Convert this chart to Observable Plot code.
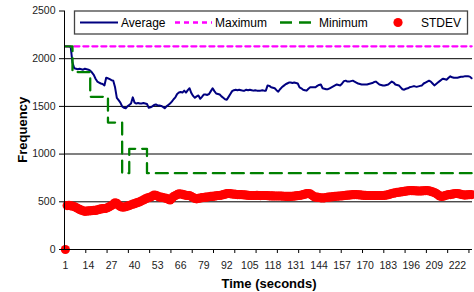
<!DOCTYPE html>
<html><head><meta charset="utf-8">
<script src="https://cdn.jsdelivr.net/npm/d3@7"></script>
<script src="https://cdn.jsdelivr.net/npm/@observablehq/plot@0.6"></script>
<style>
body{margin:0;background:#fff;}
svg{font-family:"Liberation Sans",Arial,sans-serif;}
</style>
</head><body><div id="chart"></div>
<script>
const seriesNames = ["Average", "Maximum", "Minimum", "STDEV"];
const seriesColors = ["#000080", "#FF00FF", "#008000", "#FF0000"];

const average = [
2130,2130,2130,2120,1960,1900,1895,1890,1895,1890,
1885,1895,1890,1885,1875,1855,1830,1790,1760,1750,
1740,1735,1720,1800,1795,1785,1775,1770,1700,1590,
1565,1540,1500,1485,1480,1500,1515,1530,1595,1540,
1530,1535,1530,1530,1535,1530,1525,1485,1490,1500,
1515,1520,1510,1510,1505,1495,1480,1500,1515,1530,
1550,1575,1595,1630,1645,1650,1645,1665,1645,1670,
1690,1640,1610,1590,1605,1615,1580,1600,1625,1625,
1620,1630,1660,1690,1660,1635,1630,1625,1605,1590,
1575,1570,1600,1630,1660,1670,1675,1670,1675,1670,
1665,1665,1675,1670,1675,1670,1665,1670,1665,1665,
1665,1670,1665,1665,1720,1715,1700,1695,1690,1670,
1655,1680,1700,1715,1730,1740,1750,1750,1745,1750,
1745,1740,1700,1690,1675,1670,1665,1685,1700,1700,
1700,1700,1715,1725,1730,1690,1685,1680,1680,1690,
1700,1710,1720,1730,1725,1720,1740,1765,1770,1760,
1760,1765,1770,1760,1750,1740,1735,1730,1730,1730,
1730,1735,1740,1745,1755,1760,1745,1730,1725,1720,
1720,1725,1730,1745,1760,1750,1730,1725,1720,1700,
1680,1675,1685,1690,1700,1705,1710,1710,1705,1710,
1715,1720,1740,1750,1760,1770,1760,1740,1720,1735,
1750,1765,1780,1790,1785,1780,1800,1815,1805,1800,
1800,1800,1805,1810,1810,1815,1815,1815,1812,1795
];

const stdev = [
0,460,462,458,455,450,440,
430,420,412,405,400,
402,405,405,408,410,
410,415,420,425,428,
430,432,440,450,460,
475,490,485,465,450,
445,445,448,455,460,
468,475,480,488,495,
500,510,520,530,538,
545,550,560,570,568,
560,550,548,545,540,
535,528,520,535,555,
566,575,584,582,578,
572,568,566,565,555,
545,535,531,535,540,
543,545,548,550,553,
556,556,560,563,566,
566,570,575,580,585,
587,585,582,580,578,
576,576,576,574,572,
570,568,566,566,566,
566,568,566,565,566,
566,566,564,563,562,
562,561,561,561,561,
560,558,557,556,556,
556,558,560,563,565,
566,570,575,580,585,
587,583,570,555,548,
548,545,542,540,542,
545,548,550,552,554,
556,558,560,561,563,
565,567,569,571,573,
575,576,576,574,572,
570,568,567,566,566,
566,566,566,566,566,
566,566,566,568,570,
575,580,587,590,594,
598,600,603,606,609,
612,615,618,618,617,
616,614,613,613,614,
616,618,618,615,610,
603,597,588,575,562,
556,558,565,570,576,
576,580,584,587,587,
583,578,574,571,572,
574,576,576
];

// Minimum: value changes (time at which each new level starts)
const minChangeTime  = [1, 5, 15, 25, 33, 37, 47, 230];
const minChangeValue = [2130, 1860, 1600, 1330, 800, 1055, 800, 800];

// Maximum: constant level
const maxTime  = [1, 230];
const maxValue = [2130, 2130];

const xTickLabels = [1,14,27,40,53,66,79,92,105,118,131,144,157,170,183,196,209,222];
const yTicks = [0, 500, 1000, 1500, 2000, 2500];

const avgData = average.map((v, i) => ({t: i + 1, v}));
const stdData = stdev.map((v, i) => ({t: i + 1, v}));
const minData = minChangeTime.map((t, i) => ({t, v: minChangeValue[i]}));
const maxData = maxTime.map((t, i) => ({t, v: maxValue[i]}));

const N = average.length;
const tickMarks = d3.range(12.5, N + 0.5, 12);

const chart = Plot.plot({
  width: 474, height: 292,
  marginLeft: 64, marginRight: 2, marginTop: 10.5, marginBottom: 43,
  style: {fontFamily: '"Liberation Sans", Arial, sans-serif', fontSize: "10.5px", color: "#222", background: "#fff", overflow: "visible"},
  x: {type: "linear", domain: [0.5, N + 0.5], axis: null},
  y: {type: "linear", domain: [0, 2500], axis: null},
  marks: [
    Plot.ruleY([500, 1500, 2000], {stroke: "#000", strokeWidth: 1}),
    Plot.ruleY([1000], {stroke: "#808080", strokeWidth: 2}),
    Plot.line(avgData, {x: "t", y: "v", stroke: seriesColors[0], strokeWidth: 2}),
    Plot.line(maxData, {x: "t", y: "v", stroke: seriesColors[1], strokeWidth: 2.3, strokeDasharray: "5,4"}),
    Plot.line(minData, {x: "t", y: "v", curve: "step-after", stroke: seriesColors[2], strokeWidth: 2.3, strokeDasharray: "12,7"}),
    Plot.dot(stdData, {x: "t", y: "v", r: 4.6, fill: seriesColors[3], stroke: "none"}),
    Plot.ruleX([0.5], {stroke: "#000", strokeWidth: 1}),
    Plot.ruleY([0], {stroke: "#000", strokeWidth: 1}),
    Plot.axisY({ticks: yTicks, tickSize: 5, tickPadding: 4, tickFormat: d => String(d), stroke: "#000", label: null}),
    Plot.axisX({ticks: xTickLabels, tickSize: 0, tickPadding: 12, tickFormat: d => String(d), label: null}),
    Plot.axisX({ticks: tickMarks, tickSize: 4, tickFormat: () => "", stroke: "#000", label: null})
  ]
});

const svg = d3.select(chart);
const y0 = 292 - 43;

// axis titles
svg.append("text").attr("transform", `translate(22,${(10.5 + y0) / 2}) rotate(-90)`)
  .attr("text-anchor", "middle").attr("dominant-baseline", "central")
  .attr("font-weight", "bold").attr("font-size", 13).attr("fill", "#000").text("Frequency");
svg.append("text").attr("x", 269).attr("y", 283)
  .attr("text-anchor", "middle").attr("dominant-baseline", "central")
  .attr("font-weight", "bold").attr("font-size", 13).attr("fill", "#000").text("Time (seconds)");

// legend
const lg = svg.append("g");
lg.append("rect").attr("x", 74.5).attr("y", 11).attr("width", 393).attr("height", 23)
  .attr("fill", "#fff").attr("stroke", "#444").attr("stroke-width", 1.3);
const ly = 22.5;
lg.append("line").attr("x1", 80).attr("x2", 118).attr("y1", ly).attr("y2", ly)
  .attr("stroke", seriesColors[0]).attr("stroke-width", 2);
lg.append("line").attr("x1", 175).attr("x2", 212).attr("y1", ly).attr("y2", ly)
  .attr("stroke", seriesColors[1]).attr("stroke-width", 2.3).attr("stroke-dasharray", "5,4");
lg.append("line").attr("x1", 280).attr("x2", 316).attr("y1", ly).attr("y2", ly)
  .attr("stroke", seriesColors[2]).attr("stroke-width", 2.3).attr("stroke-dasharray", "12,7");
lg.append("circle").attr("cx", 398).attr("cy", ly).attr("r", 4.6).attr("fill", seriesColors[3]);
const labelX = [121, 215, 319, 421];
seriesNames.forEach((n, i) => {
  lg.append("text").attr("x", labelX[i]).attr("y", ly).attr("dominant-baseline", "central")
    .attr("text-anchor", "start")
    .attr("font-size", 12).attr("fill", "#000").text(n);
});

document.getElementById("chart").appendChild(chart);
</script>
</body></html>
